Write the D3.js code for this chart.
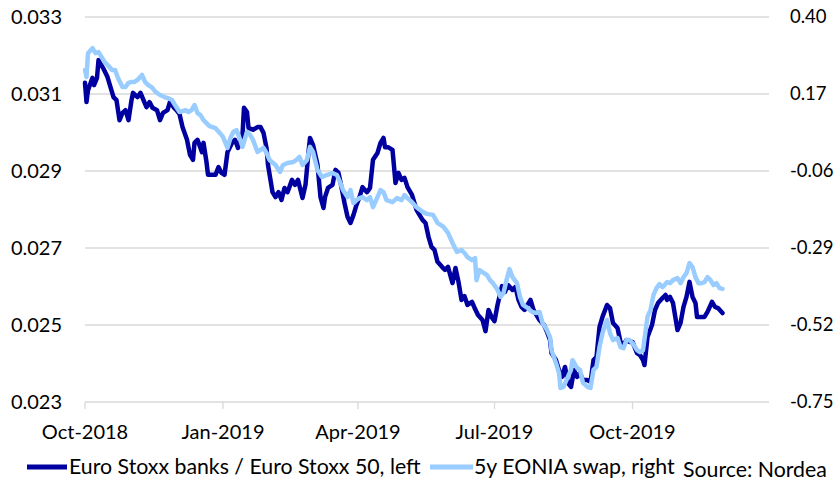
<!DOCTYPE html>
<html><head><meta charset="utf-8">
<script src="https://cdn.jsdelivr.net/npm/d3@7"></script>
<style>body{margin:0;background:#fff}svg{display:block}text{font-family:Lato,"Open Sans",sans-serif;fill:#000}</style>
</head><body><svg id="c" width="840" height="482"></svg>
<script>
const leftTicks = [0.023, 0.025, 0.027, 0.029, 0.031, 0.033];
const rightTicks = [-0.75, -0.52, -0.29, -0.06, 0.17, 0.40];
const xTickDates = ["2018-10-01","2019-01-01","2019-04-01","2019-07-01","2019-10-01"];
const seriesNames = ["Euro Stoxx banks / Euro Stoxx 50, left", "5y EONIA swap, right"];
const sourceText = "Source: Nordea";

const stoxxRatio = [["2018-10-01",0.03129],["2018-10-02",0.03079],["2018-10-03",0.03110],["2018-10-06",0.03142],["2018-10-07",0.03123],["2018-10-09",0.03142],["2018-10-10",0.03188],["2018-10-11",0.03181],["2018-10-13",0.03168],["2018-10-16",0.03144],["2018-10-18",0.03118],["2018-10-20",0.03092],["2018-10-22",0.03084],["2018-10-24",0.03032],["2018-10-26",0.03051],["2018-10-28",0.03058],["2018-10-30",0.03032],["2018-11-01",0.03084],["2018-11-02",0.03103],["2018-11-05",0.03092],["2018-11-07",0.03103],["2018-11-09",0.03084],["2018-11-11",0.03066],["2018-11-13",0.03079],["2018-11-15",0.03064],["2018-11-18",0.03058],["2018-11-20",0.03032],["2018-11-22",0.03051],["2018-11-25",0.03058],["2018-11-27",0.03084],["2018-11-29",0.03066],["2018-12-01",0.03058],["2018-12-03",0.03048],["2018-12-05",0.03014],["2018-12-08",0.02981],["2018-12-10",0.02942],["2018-12-12",0.02929],["2018-12-13",0.02973],["2018-12-15",0.02981],["2018-12-18",0.02949],["2018-12-19",0.02973],["2018-12-21",0.02923],["2018-12-22",0.02890],["2018-12-27",0.02890],["2018-12-29",0.02910],["2018-12-31",0.02895],["2019-01-02",0.02890],["2019-01-04",0.02949],["2019-01-07",0.02973],["2019-01-09",0.02981],["2019-01-11",0.02960],["2019-01-14",0.02994],["2019-01-15",0.03064],["2019-01-17",0.03053],["2019-01-18",0.03012],["2019-01-21",0.03007],["2019-01-24",0.03014],["2019-01-26",0.03014],["2019-01-28",0.02999],["2019-01-30",0.02960],["2019-01-31",0.02916],["2019-02-03",0.02845],["2019-02-05",0.02832],["2019-02-07",0.02845],["2019-02-09",0.02825],["2019-02-11",0.02856],["2019-02-13",0.02845],["2019-02-16",0.02877],["2019-02-18",0.02864],["2019-02-20",0.02877],["2019-02-23",0.02830],["2019-02-25",0.02864],["2019-02-27",0.02949],["2019-02-28",0.02986],["2019-03-02",0.02968],["2019-03-05",0.02916],["2019-03-07",0.02832],["2019-03-09",0.02804],["2019-03-10",0.02832],["2019-03-12",0.02856],["2019-03-15",0.02864],["2019-03-17",0.02903],["2019-03-19",0.02895],["2019-03-21",0.02858],["2019-03-23",0.02817],["2019-03-25",0.02781],["2019-03-27",0.02765],["2019-03-29",0.02786],["2019-03-31",0.02812],["2019-04-02",0.02832],["2019-04-04",0.02858],["2019-04-07",0.02845],["2019-04-09",0.02856],["2019-04-11",0.02929],["2019-04-14",0.02947],["2019-04-16",0.02973],["2019-04-18",0.02986],["2019-04-19",0.02962],["2019-04-21",0.02962],["2019-04-24",0.02955],["2019-04-26",0.02869],["2019-04-28",0.02895],["2019-04-30",0.02877],["2019-05-02",0.02882],["2019-05-04",0.02858],["2019-05-07",0.02838],["2019-05-10",0.02799],["2019-05-14",0.02773],["2019-05-16",0.02765],["2019-05-18",0.02729],["2019-05-20",0.02703],["2019-05-22",0.02695],["2019-05-24",0.02664],["2019-05-27",0.02651],["2019-05-29",0.02643],["2019-05-31",0.02651],["2019-06-03",0.02609],["2019-06-05",0.02648],["2019-06-07",0.02612],["2019-06-09",0.02565],["2019-06-11",0.02575],["2019-06-13",0.02552],["2019-06-16",0.02560],["2019-06-18",0.02542],["2019-06-20",0.02526],["2019-06-23",0.02513],["2019-06-25",0.02484],["2019-06-27",0.02539],["2019-06-29",0.02521],["2019-07-01",0.02510],["2019-07-03",0.02552],["2019-07-06",0.02601],["2019-07-08",0.02586],["2019-07-10",0.02604],["2019-07-13",0.02591],["2019-07-15",0.02599],["2019-07-17",0.02565],["2019-07-19",0.02547],["2019-07-21",0.02539],["2019-07-25",0.02565],["2019-07-27",0.02539],["2019-07-29",0.02526],["2019-07-31",0.02513],["2019-08-03",0.02500],["2019-08-05",0.02482],["2019-08-07",0.02461],["2019-08-08",0.02427],["2019-08-11",0.02409],["2019-08-13",0.02383],["2019-08-15",0.02365],["2019-08-17",0.02391],["2019-08-19",0.02349],["2019-08-21",0.02339],["2019-08-23",0.02383],["2019-08-25",0.02365],["2019-08-27",0.02375],["2019-08-29",0.02357],["2019-09-01",0.02357],["2019-09-03",0.02352],["2019-09-05",0.02409],["2019-09-07",0.02417],["2019-09-09",0.02495],["2019-09-11",0.02521],["2019-09-14",0.02552],["2019-09-16",0.02544],["2019-09-18",0.02505],["2019-09-21",0.02492],["2019-09-23",0.02456],["2019-09-25",0.02448],["2019-09-27",0.02461],["2019-09-29",0.02456],["2019-10-01",0.02456],["2019-10-04",0.02427],["2019-10-06",0.02422],["2019-10-08",0.02409],["2019-10-09",0.02396],["2019-10-11",0.02469],["2019-10-14",0.02500],["2019-10-16",0.02539],["2019-10-18",0.02557],["2019-10-21",0.02570],["2019-10-23",0.02578],["2019-10-24",0.02565],["2019-10-26",0.02573],["2019-10-28",0.02557],["2019-10-31",0.02487],["2019-11-02",0.02505],["2019-11-04",0.02547],["2019-11-06",0.02573],["2019-11-08",0.02612],["2019-11-10",0.02573],["2019-11-12",0.02557],["2019-11-13",0.02521],["2019-11-15",0.02521],["2019-11-18",0.02521],["2019-11-20",0.02534],["2019-11-23",0.02560],["2019-11-25",0.02547],["2019-11-27",0.02544],["2019-11-30",0.02531]];

const eoniaSwap = [["2018-10-01",0.242],["2018-10-02",0.221],["2018-10-03",0.292],["2018-10-06",0.307],["2018-10-08",0.292],["2018-10-10",0.295],["2018-10-12",0.281],["2018-10-14",0.266],["2018-10-16",0.257],["2018-10-19",0.242],["2018-10-21",0.242],["2018-10-23",0.218],["2018-10-26",0.191],["2018-10-28",0.191],["2018-10-30",0.203],["2018-11-01",0.206],["2018-11-03",0.206],["2018-11-05",0.212],["2018-11-08",0.227],["2018-11-10",0.206],["2018-11-12",0.197],["2018-11-15",0.188],["2018-11-17",0.176],["2018-11-20",0.167],["2018-11-23",0.161],["2018-11-25",0.158],["2018-11-28",0.152],["2018-11-30",0.137],["2018-12-03",0.116],["2018-12-07",0.122],["2018-12-09",0.116],["2018-12-11",0.122],["2018-12-13",0.137],["2018-12-15",0.113],["2018-12-17",0.107],["2018-12-19",0.092],["2018-12-21",0.083],["2018-12-23",0.074],["2018-12-27",0.068],["2018-12-30",0.053],["2019-01-01",0.042],["2019-01-04",0.009],["2019-01-06",0.039],["2019-01-08",0.057],["2019-01-10",0.062],["2019-01-12",0.039],["2019-01-14",0.012],["2019-01-17",0.057],["2019-01-19",0.048],["2019-01-21",0.033],["2019-01-24",-0.003],["2019-01-26",0.003],["2019-01-28",0.009],["2019-01-30",-0.006],["2019-02-01",-0.027],["2019-02-05",-0.042],["2019-02-08",-0.063],["2019-02-10",-0.042],["2019-02-13",-0.036],["2019-02-17",-0.033],["2019-02-19",-0.027],["2019-02-21",-0.018],["2019-02-23",-0.042],["2019-02-26",-0.027],["2019-02-28",0.012],["2019-03-02",-0.003],["2019-03-05",-0.057],["2019-03-08",-0.078],["2019-03-11",-0.072],["2019-03-15",-0.066],["2019-03-18",-0.072],["2019-03-20",-0.093],["2019-03-22",-0.117],["2019-03-25",-0.138],["2019-03-27",-0.117],["2019-03-29",-0.156],["2019-03-31",-0.147],["2019-04-02",-0.141],["2019-04-04",-0.138],["2019-04-07",-0.147],["2019-04-09",-0.138],["2019-04-11",-0.168],["2019-04-14",-0.138],["2019-04-16",-0.117],["2019-04-18",-0.123],["2019-04-20",-0.147],["2019-04-24",-0.153],["2019-04-27",-0.141],["2019-04-30",-0.147],["2019-05-02",-0.132],["2019-05-04",-0.141],["2019-05-07",-0.153],["2019-05-10",-0.168],["2019-05-14",-0.182],["2019-05-17",-0.188],["2019-05-21",-0.191],["2019-05-24",-0.215],["2019-05-28",-0.227],["2019-05-31",-0.245],["2019-06-03",-0.275],["2019-06-06",-0.302],["2019-06-09",-0.296],["2019-06-11",-0.305],["2019-06-13",-0.317],["2019-06-16",-0.326],["2019-06-18",-0.320],["2019-06-19",-0.386],["2019-06-21",-0.356],["2019-06-23",-0.362],["2019-06-26",-0.371],["2019-06-28",-0.386],["2019-06-30",-0.395],["2019-07-03",-0.415],["2019-07-05",-0.436],["2019-07-07",-0.424],["2019-07-09",-0.386],["2019-07-11",-0.353],["2019-07-13",-0.377],["2019-07-16",-0.395],["2019-07-18",-0.436],["2019-07-20",-0.460],["2019-07-23",-0.469],["2019-07-26",-0.481],["2019-07-29",-0.484],["2019-07-31",-0.481],["2019-08-02",-0.514],["2019-08-05",-0.535],["2019-08-07",-0.556],["2019-08-08",-0.595],["2019-08-11",-0.634],["2019-08-13",-0.663],["2019-08-14",-0.708],["2019-08-16",-0.705],["2019-08-18",-0.684],["2019-08-21",-0.654],["2019-08-22",-0.625],["2019-08-25",-0.648],["2019-08-27",-0.654],["2019-08-29",-0.693],["2019-09-01",-0.705],["2019-09-03",-0.708],["2019-09-05",-0.654],["2019-09-07",-0.645],["2019-09-09",-0.586],["2019-09-11",-0.544],["2019-09-14",-0.505],["2019-09-16",-0.544],["2019-09-18",-0.565],["2019-09-21",-0.559],["2019-09-23",-0.586],["2019-09-25",-0.589],["2019-09-27",-0.565],["2019-09-29",-0.565],["2019-10-01",-0.574],["2019-10-04",-0.595],["2019-10-06",-0.601],["2019-10-08",-0.595],["2019-10-11",-0.496],["2019-10-13",-0.475],["2019-10-15",-0.430],["2019-10-17",-0.410],["2019-10-19",-0.398],["2019-10-21",-0.407],["2019-10-24",-0.392],["2019-10-26",-0.395],["2019-10-28",-0.386],["2019-10-31",-0.380],["2019-11-02",-0.395],["2019-11-04",-0.377],["2019-11-06",-0.365],["2019-11-08",-0.335],["2019-11-10",-0.347],["2019-11-12",-0.377],["2019-11-14",-0.395],["2019-11-16",-0.395],["2019-11-18",-0.392],["2019-11-20",-0.377],["2019-11-22",-0.386],["2019-11-24",-0.401],["2019-11-26",-0.395],["2019-11-28",-0.410],["2019-11-30",-0.412]];

const parse = d3.timeParse("%Y-%m-%d");
const svg = d3.select("#c");
const L = 85, R = 770.5, T = 17, B = 402;
const FS = 20;
const x = d3.scaleTime().domain([parse("2018-10-01"), parse("2020-01-01")]).range([L, R]);
const yL = d3.scaleLinear().domain([0.023, 0.033]).range([B, T]);
const yR = d3.scaleLinear().domain([-0.75, 0.40]).range([B, T]);
const grid = "#D9D9D9";

// gridlines
svg.append("g").selectAll("line").data(leftTicks).join("line")
  .attr("x1", L).attr("x2", 769).attr("y1", d => yL(d)).attr("y2", d => yL(d))
  .attr("stroke", grid).attr("stroke-width", 1.3);

// left labels
svg.append("g").selectAll("text").data(leftTicks).join("text")
  .attr("x", 62).attr("y", d => yL(d)).attr("dy", "0.35em").attr("text-anchor", "end")
  .attr("font-size", FS).text(d => d3.format(".3f")(d));
// right labels
svg.append("g").selectAll("text").data(rightTicks).join("text")
  .attr("x", 790).attr("y", d => yR(d)).attr("dy", "0.35em").attr("text-anchor", "start")
  .attr("font-size", 18.5).text(d => d3.format(".2f")(d).replace("\u2212", "-"));

// x ticks
const xt = xTickDates.map(parse);
svg.append("g").selectAll("line").data(xt).join("line")
  .attr("x1", d => x(d)).attr("x2", d => x(d)).attr("y1", B).attr("y2", B + 7)
  .attr("stroke", grid).attr("stroke-width", 1.3);
svg.append("g").selectAll("text").data(xt).join("text")
  .attr("x", d => x(d)).attr("y", 432).attr("dy", "0.35em").attr("text-anchor", "middle")
  .attr("font-size", FS).text(d => d3.timeFormat("%b-%Y")(d));

// lines
const darkC = "#0000A0", lightC = "#99CCFF";
const lineL = d3.line().x(d => x(parse(d[0]))).y(d => yL(d[1]));
const lineR = d3.line().x(d => x(parse(d[0]))).y(d => yR(d[1]));
svg.append("path").datum(stoxxRatio).attr("d", lineL).attr("fill", "none")
  .attr("stroke", darkC).attr("stroke-width", 4.5).attr("stroke-linejoin", "round").attr("stroke-linecap", "round");
svg.append("path").datum(eoniaSwap).attr("d", lineR).attr("fill", "none")
  .attr("stroke", lightC).attr("stroke-width", 4.5).attr("stroke-linejoin", "round").attr("stroke-linecap", "round");

// legend
const ly = 467, LFS = 21.3;
svg.append("line").attr("x1", 27).attr("x2", 67).attr("y1", ly).attr("y2", ly).attr("stroke", darkC).attr("stroke-width", 5);
svg.append("text").attr("x", 69).attr("y", ly).attr("dy", "0.35em").attr("font-size", LFS).text(seriesNames[0]);
svg.append("line").attr("x1", 430).attr("x2", 473).attr("y1", ly).attr("y2", ly).attr("stroke", lightC).attr("stroke-width", 5);
svg.append("text").attr("x", 474).attr("y", ly).attr("dy", "0.35em").attr("font-size", LFS).text(seriesNames[1]);
svg.append("text").attr("x", 683).attr("y", ly + 3).attr("dy", "0.35em").attr("font-size", LFS).text(sourceText);
</script></body></html>
